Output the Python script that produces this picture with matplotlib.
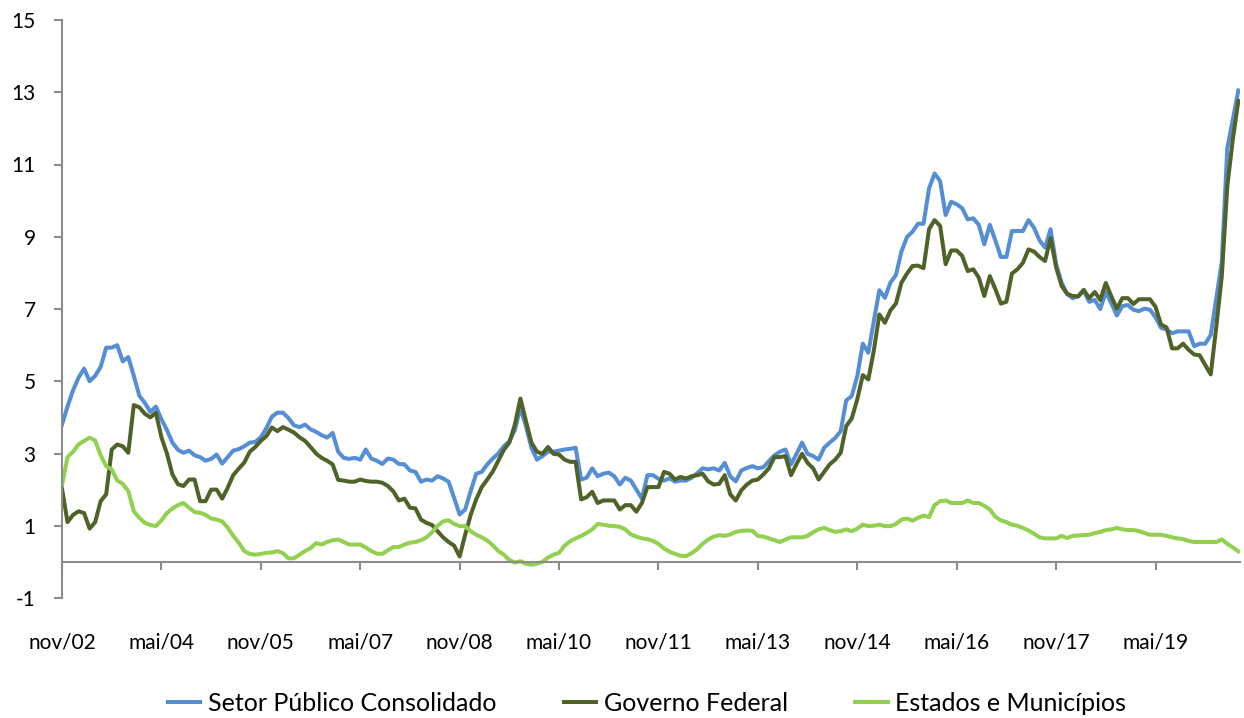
import numpy as np
import matplotlib
matplotlib.use("Agg")
import matplotlib.pyplot as plt

# Monthly series, nov/02 .. ago/20 (214 points), % do PIB
setor_publico = [
    3.8, 4.3, 4.75, 5.1, 5.35, 5.0, 5.15, 5.4, 5.93, 5.93,
    6.0, 5.55, 5.67, 5.15, 4.6, 4.4, 4.15, 4.3, 3.95, 3.65,
    3.3, 3.1, 3.02, 3.08, 2.95, 2.9, 2.8, 2.85, 2.97, 2.72,
    2.9, 3.08, 3.12, 3.2, 3.3, 3.32, 3.45, 3.7, 4.02, 4.13,
    4.13, 3.98, 3.78, 3.73, 3.8, 3.67, 3.6, 3.51, 3.44, 3.57,
    3.05, 2.88, 2.85, 2.88, 2.83, 3.11, 2.86, 2.8, 2.71, 2.86,
    2.83, 2.71, 2.7, 2.53, 2.49, 2.22, 2.28, 2.25, 2.37, 2.31,
    2.22, 1.77, 1.31, 1.45, 1.96, 2.44, 2.49, 2.7, 2.86, 3.0,
    3.2, 3.34, 3.65, 4.27, 3.76, 3.16, 2.83, 2.93, 3.05, 3.05,
    3.08, 3.11, 3.13, 3.16, 2.28, 2.33, 2.59, 2.37, 2.44, 2.47,
    2.37, 2.14, 2.33, 2.25, 2.0, 1.75, 2.4, 2.4, 2.3, 2.25,
    2.31, 2.22, 2.25, 2.25, 2.33, 2.45, 2.59, 2.56, 2.59, 2.53,
    2.74, 2.37, 2.23, 2.53, 2.6, 2.65, 2.59, 2.62, 2.79, 2.95,
    3.05, 3.11, 2.7, 2.99, 3.3, 2.99, 2.93, 2.83, 3.16, 3.3,
    3.43, 3.62, 4.47, 4.59, 5.14, 6.04, 5.79, 6.67, 7.52, 7.31,
    7.73, 7.94, 8.59, 8.99, 9.14, 9.36, 9.36, 10.34, 10.75, 10.54,
    9.6, 9.97, 9.9, 9.79, 9.48, 9.51, 9.33, 8.79, 9.33, 8.9,
    8.44, 8.44, 9.16, 9.16, 9.16, 9.46, 9.25, 8.9, 8.7, 9.21,
    8.24, 7.73, 7.41, 7.3, 7.35, 7.5, 7.2, 7.25, 7.0, 7.47,
    7.16, 6.82, 7.08, 7.11, 6.98, 6.94, 7.01, 6.98, 6.77, 6.48,
    6.43, 6.33, 6.38, 6.38, 6.38, 5.97, 6.04, 6.04, 6.28, 7.3,
    8.3, 11.45, 12.25, 13.05,
]

governo_federal = [
    2.03, 1.1, 1.3, 1.4, 1.35, 0.92, 1.1, 1.68, 1.87, 3.11,
    3.25, 3.2, 3.02, 4.34, 4.28, 4.1, 4.0, 4.13, 3.45, 3.0,
    2.42, 2.15, 2.1, 2.28, 2.28, 1.68, 1.68, 2.0, 2.0, 1.75,
    2.05, 2.4, 2.58, 2.75, 3.05, 3.18, 3.35, 3.48, 3.72, 3.62,
    3.73, 3.66, 3.58, 3.45, 3.35, 3.18, 3.0, 2.88, 2.8, 2.7,
    2.27, 2.25, 2.22, 2.22, 2.28, 2.24, 2.22, 2.22, 2.19, 2.1,
    1.95, 1.7, 1.75, 1.5, 1.48, 1.17, 1.08, 1.02, 0.85, 0.68,
    0.55, 0.45, 0.15, 0.75, 1.3, 1.73, 2.07, 2.28, 2.5, 2.8,
    3.1, 3.3, 3.8, 4.52, 3.9, 3.3, 3.05, 2.99, 3.18, 2.99,
    2.97, 2.83, 2.77, 2.77, 1.73, 1.79, 1.94, 1.63, 1.7, 1.7,
    1.7, 1.45, 1.57, 1.57, 1.39, 1.63, 2.07, 2.07, 2.07, 2.49,
    2.44, 2.28, 2.35, 2.31, 2.37, 2.4, 2.44, 2.23, 2.14, 2.16,
    2.4, 1.87, 1.7, 1.98, 2.14, 2.25, 2.28, 2.42, 2.59, 2.9,
    2.9, 2.93, 2.4, 2.71, 2.99, 2.74, 2.59, 2.28, 2.49, 2.7,
    2.83, 3.02, 3.76, 3.97, 4.5, 5.17, 5.05, 5.85, 6.85, 6.62,
    6.96, 7.15, 7.73, 7.98, 8.19, 8.2, 8.13, 9.21, 9.46, 9.3,
    8.24, 8.62, 8.62, 8.47, 8.05, 8.1, 7.87, 7.36, 7.91, 7.55,
    7.15, 7.2, 7.98, 8.1, 8.28, 8.65, 8.59, 8.44, 8.33, 8.96,
    8.16, 7.64, 7.42, 7.36, 7.35, 7.53, 7.3, 7.47, 7.25, 7.72,
    7.35, 7.01, 7.3, 7.3, 7.14, 7.27, 7.27, 7.27, 7.06, 6.57,
    6.49, 5.91, 5.91, 6.04, 5.87, 5.74, 5.72, 5.45, 5.19, 6.5,
    7.9, 10.4, 11.7, 12.76,
]

estados_municipios = [
    2.12, 2.9, 3.05, 3.25, 3.35, 3.44, 3.36, 2.95, 2.65, 2.56,
    2.25, 2.16, 1.96, 1.4, 1.22, 1.08, 1.02, 0.99, 1.15, 1.35,
    1.48, 1.57, 1.63, 1.5, 1.38, 1.36, 1.3, 1.2, 1.17, 1.12,
    0.95, 0.72, 0.53, 0.3, 0.22, 0.2, 0.22, 0.25, 0.26, 0.3,
    0.24, 0.1, 0.1, 0.2, 0.3, 0.38, 0.52, 0.48, 0.55, 0.6,
    0.62, 0.55, 0.48, 0.48, 0.48, 0.4, 0.3, 0.23, 0.22, 0.32,
    0.41, 0.41, 0.48, 0.53, 0.55, 0.6, 0.68, 0.82, 1.0, 1.12,
    1.15, 1.05, 0.99, 0.99, 0.85, 0.75, 0.68, 0.59, 0.46, 0.3,
    0.2, 0.05, -0.02, 0.02, -0.05, -0.08, -0.05, 0.0, 0.12, 0.2,
    0.25, 0.45, 0.57, 0.65, 0.72, 0.8, 0.9, 1.05, 1.03, 1.0,
    0.99, 0.97, 0.9, 0.76, 0.7, 0.65, 0.63, 0.58, 0.5, 0.37,
    0.28, 0.22, 0.17, 0.16, 0.24, 0.35, 0.5, 0.62, 0.7, 0.74,
    0.72, 0.76, 0.83, 0.86, 0.87, 0.86, 0.72, 0.7, 0.65, 0.6,
    0.55, 0.62, 0.68, 0.68, 0.68, 0.72, 0.82, 0.9, 0.94, 0.88,
    0.83, 0.85, 0.9, 0.85, 0.92, 1.03, 0.99, 1.0, 1.03, 0.99,
    0.99, 1.05, 1.17, 1.2, 1.14, 1.22, 1.28, 1.24, 1.57, 1.68,
    1.7, 1.63, 1.63, 1.63, 1.7, 1.63, 1.63, 1.55, 1.45, 1.25,
    1.15, 1.1, 1.03, 1.0, 0.94, 0.87, 0.78, 0.68, 0.65, 0.65,
    0.65, 0.72, 0.66, 0.72, 0.73, 0.74, 0.75, 0.8, 0.83, 0.88,
    0.9, 0.94, 0.9, 0.88, 0.88, 0.85, 0.8, 0.75, 0.75, 0.75,
    0.72, 0.68, 0.65, 0.63, 0.58, 0.55, 0.55, 0.55, 0.55, 0.55,
    0.62, 0.5, 0.4, 0.29,
]

tick_labels = ['nov/02', 'mai/04', 'nov/05', 'mai/07', 'nov/08', 'mai/10',
               'nov/11', 'mai/13', 'nov/14', 'mai/16', 'nov/17', 'mai/19']
series_names = ['Setor Público Consolidado', 'Governo Federal', 'Estados e Municípios']
colors = ['#558ED5', '#4F6228', '#92D050']

plt.rcParams['font.family'] = ['Lato', 'DejaVu Sans']
plt.rcParams['axes.unicode_minus'] = False

fig = plt.figure(figsize=(12.44, 7.18), dpi=100)
ax = fig.add_axes([62 / 1244, 1 - 598 / 718, (1240 - 62) / 1244, 578 / 718])

x = np.arange(len(setor_publico))
for vals, name, c in zip([setor_publico, governo_federal, estados_municipios],
                         series_names, colors):
    ax.plot(x, vals, color=c, lw=2.9, label=name, solid_joinstyle='round')

ax.set_xlim(0, len(x) - 1 + 0.3)
ax.set_ylim(-1, 15)
ax.set_yticks(np.arange(-1, 16, 2))
ax.set_xticks(np.arange(0, 18 * len(tick_labels), 18))
ax.set_xticklabels(tick_labels)

grey = '#8C8C8C'
for s in ['top', 'right']:
    ax.spines[s].set_visible(False)
ax.spines['left'].set_color(grey)
ax.spines['left'].set_linewidth(1.5)
ax.spines['bottom'].set_position(('data', 0))
ax.spines['bottom'].set_color(grey)
ax.spines['bottom'].set_linewidth(1.5)

ax.tick_params(axis='y', direction='out', length=6, width=1.5, color=grey,
               labelsize=15, pad=13)
ax.tick_params(axis='x', direction='out', length=6, width=1.5, color=grey,
               labelsize=15, pad=45)

fig.legend(loc='center', bbox_to_anchor=(0.52, 0.02), ncol=3, frameon=False,
           fontsize=18, handlelength=1.3, handletextpad=0.3, columnspacing=2.7)

fig.savefig('out.png', dpi=100)
